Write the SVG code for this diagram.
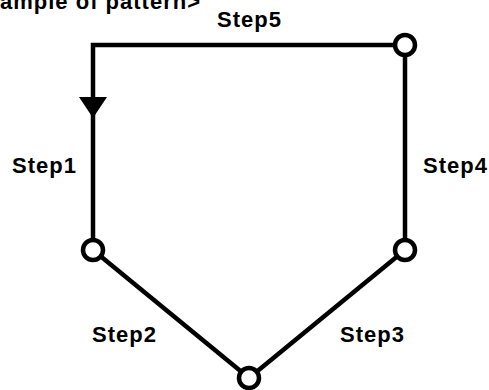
<svg xmlns="http://www.w3.org/2000/svg" width="489" height="390" viewBox="0 0 489 390">
<style>
.lbl{font-family:"Liberation Sans",Arial,sans-serif;font-weight:bold;font-size:22px;letter-spacing:1px;fill:#000}
.edge{stroke:#000;stroke-width:4.5;fill:none}
.pt{stroke:#000;stroke-width:4.5;fill:#fff}
</style>
<rect width="489" height="390" fill="#fff"/>
<text class="lbl" x="0" y="9">ample of pattern&gt;</text>
<g id="connectors">
<polyline class="edge" points="405,45 93,45 93,250"/>
<line class="edge" x1="405" y1="45" x2="405" y2="250"/>
<line class="edge" x1="93" y1="250" x2="249" y2="378"/>
<line class="edge" x1="405" y1="250" x2="249" y2="378"/>
<polygon points="79,97 107,97 93,118" fill="#000"/>
</g>
<g id="p1"><circle class="pt" cx="93" cy="250" r="10"/></g>
<g id="p2"><circle class="pt" cx="249" cy="378" r="10"/></g>
<g id="p3"><circle class="pt" cx="405" cy="250" r="10"/></g>
<g id="p4"><circle class="pt" cx="405" cy="45" r="10"/></g>
<g id="labels">
<text class="lbl" x="217" y="27">Step5</text>
<text class="lbl" x="12" y="173">Step1</text>
<text class="lbl" x="423" y="173">Step4</text>
<text class="lbl" x="92" y="342">Step2</text>
<text class="lbl" x="340" y="342">Step3</text>
</g>
</svg>
